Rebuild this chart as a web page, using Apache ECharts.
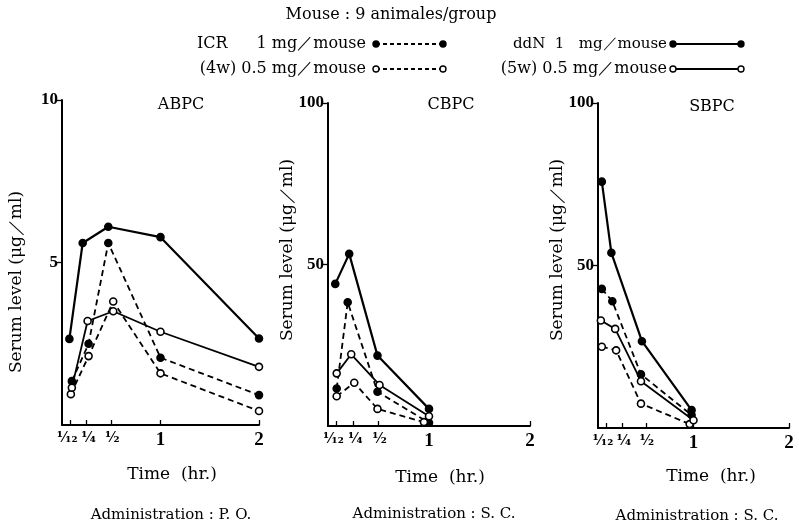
<!DOCTYPE html>
<html>
<head>
<meta charset="utf-8">
<script src="https://cdn.jsdelivr.net/npm/echarts@6/dist/echarts.min.js"></script>
<style>html,body{margin:0;padding:0;background:#fff}#c{width:799px;height:522px}</style>
</head>
<body>
<div id="c"></div>
<script>
// ---- Data (time in hr, serum level in µg/ml) ----
const panelTitles = ['ABPC', 'CBPC', 'SBPC'];
const routeLabels = ['Administration : P. O.', 'Administration : S. C.', 'Administration : S. C.'];
const yMax = [10, 100, 100];
const yTicks = [[5, 10], [50, 100], [50, 100]];
const xTicks = [1/12, 1/4, 1/2, 1, 2];
const xWholeTicks = [1, 2];
const xFracTicks = [1/12, 1/4, 1/2];
const xFracLabels = ['¹⁄₁₂', '¹⁄₄', '¹⁄₂'];
const seriesNames = ['ICR 1 mg/mouse', 'ICR 0.5 mg/mouse', 'ddN 1 mg/mouse', 'ddN 0.5 mg/mouse'];

// ABPC (P.O.)
const abpc_icr1_t  = [0.10, 0.27, 0.47, 1.00, 2.00];
const abpc_icr1_v  = [1.35, 2.50, 5.60, 2.07, 0.92];
const abpc_icr05_t = [0.09, 0.27, 0.52, 1.00, 2.00];
const abpc_icr05_v = [0.95, 2.12, 3.80, 1.59, 0.43];
const abpc_ddn1_t  = [0.075, 0.21, 0.47, 1.00, 2.00];
const abpc_ddn1_v  = [2.65, 5.60, 6.10, 5.78, 2.66];
const abpc_ddn05_t = [0.10, 0.26, 0.52, 1.00, 2.00];
const abpc_ddn05_v = [1.15, 3.20, 3.50, 2.87, 1.79];

// CBPC (S.C.)
const cbpc_icr1_t  = [0.086, 0.195, 0.49, 1.00];
const cbpc_icr1_v  = [11.6, 38.3, 10.6, 1.0];
const cbpc_icr05_t = [0.086, 0.26, 0.49, 0.95];
const cbpc_icr05_v = [9.2, 13.4, 5.3, 1.2];
const cbpc_ddn1_t  = [0.072, 0.21, 0.49, 1.00];
const cbpc_ddn1_v  = [44.0, 53.3, 21.8, 5.3];
const cbpc_ddn05_t = [0.086, 0.23, 0.51, 1.00];
const cbpc_ddn05_v = [16.3, 22.2, 12.7, 3.0];

// SBPC (S.C.)
const sbpc_icr1_t  = [0.04, 0.15, 0.45, 0.98];
const sbpc_icr1_v  = [42.8, 39.0, 16.5, 4.0];
const sbpc_icr05_t = [0.04, 0.19, 0.45, 0.96];
const sbpc_icr05_v = [25.0, 23.9, 7.5, 1.2];
const sbpc_ddn1_t  = [0.04, 0.14, 0.46, 0.98];
const sbpc_ddn1_v  = [75.8, 53.9, 26.7, 5.5];
const sbpc_ddn05_t = [0.03, 0.18, 0.45, 1.00];
const sbpc_ddn05_v = [33.1, 30.5, 14.4, 2.4];

const panelData = [
  [[abpc_icr1_t, abpc_icr1_v], [abpc_icr05_t, abpc_icr05_v], [abpc_ddn1_t, abpc_ddn1_v], [abpc_ddn05_t, abpc_ddn05_v]],
  [[cbpc_icr1_t, cbpc_icr1_v], [cbpc_icr05_t, cbpc_icr05_v], [cbpc_ddn1_t, cbpc_ddn1_v], [cbpc_ddn05_t, cbpc_ddn05_v]],
  [[sbpc_icr1_t, sbpc_icr1_v], [sbpc_icr05_t, sbpc_icr05_v], [sbpc_ddn1_t, sbpc_ddn1_v], [sbpc_ddn05_t, sbpc_ddn05_v]]
];

// ---- Layout / style ----
const SERIF = '"DejaVu Serif", "Liberation Serif", serif';
const grids = [
  { left: 62,  top: 100, width: 197, height: 325 },
  { left: 328, top: 103, width: 202, height: 323 },
  { left: 598, top: 103, width: 191, height: 325 }
];
const seriesStyle = [
  { dash: [6, 4], filled: true,  width: 1.8 },
  { dash: [6, 4], filled: false, width: 1.8 },
  { dash: 'solid', filled: true,  width: 2.2 },
  { dash: 'solid', filled: false, width: 1.8 }
];

const xAxes = [], yAxes = [], series = [];
for (let p = 0; p < 3; p++) {
  xAxes.push({
    type: 'value', gridIndex: p, min: 0, max: 2,
    axisLine: { show: true, onZero: false, lineStyle: { color: '#000', width: 2 } },
    axisTick: { show: true, inside: true, length: 5, customValues: xTicks, lineStyle: { color: '#000', width: 1.3 } },
    axisLabel: {
      customValues: xWholeTicks, margin: 6, color: '#000',
      fontFamily: '"Liberation Serif", serif', fontSize: 19, fontWeight: 'bold'
    },
    splitLine: { show: false }
  });
  yAxes.push({
    type: 'value', gridIndex: p, min: 0, max: yMax[p],
    axisLine: { show: true, lineStyle: { color: '#000', width: 2 } },
    axisTick: { show: true, length: 5, customValues: yTicks[p], lineStyle: { color: '#000', width: 1.3 } },
    axisLabel: { customValues: yTicks[p], margin: 4, color: '#000', fontFamily: '"Liberation Serif", serif', fontSize: 17, fontWeight: 'bold' },
    splitLine: { show: false }
  });
  for (let s = 0; s < 4; s++) {
    const st = seriesStyle[s];
    const t = panelData[p][s][0], v = panelData[p][s][1];
    series.push({
      name: seriesNames[s], type: 'line', xAxisIndex: p, yAxisIndex: p,
      data: t.map((x, i) => [x, v[i]]),
      symbol: 'circle', symbolSize: 7, showSymbol: true,
      lineStyle: { color: '#000', width: st.width, type: st.dash },
      itemStyle: { color: st.filled ? '#000' : '#fff', borderColor: '#000', borderWidth: 1.6 },
      z: st.filled ? 3 : 4,
      animation: false
    });
  }
}

// ---- Texts and legend key (graphic) ----
const g = [];
function txt(text, x, y, size, align, opts) {
  g.push(Object.assign({
    type: 'text', x: x, y: y,
    style: { text: text, font: (opts && opts.bold ? 'bold ' : '') + size + 'px ' + ((opts && opts.family) || SERIF), fill: '#000',
             textAlign: align || 'center', textVerticalAlign: (opts && opts.va) || 'middle' }
  }, opts && opts.rot ? { rotation: opts.rot } : {}));
}
txt('Mouse : 9 animales/group', 391, 15, 16, 'center');
txt('ICR', 197, 44, 16, 'left');
txt('1 mg／mouse', 366, 44, 16, 'right');
txt('(4w) 0.5 mg／mouse', 366, 69, 16, 'right');
txt('ddN  1   mg／mouse', 667, 44, 15, 'right');
txt('(5w) 0.5 mg／mouse', 667, 69, 16, 'right');

const legendKeys = [
  { x1: 376, x2: 443, y: 44, dash: [4, 3], filled: true },
  { x1: 376, x2: 443, y: 69, dash: [4, 3], filled: false },
  { x1: 673, x2: 741, y: 44, dash: null, filled: true },
  { x1: 673, x2: 741, y: 69, dash: null, filled: false }
];
legendKeys.forEach(k => {
  g.push({ type: 'line', shape: { x1: k.x1, y1: k.y, x2: k.x2, y2: k.y },
           style: { stroke: '#000', lineWidth: 1.8, lineDash: k.dash } });
  [k.x1, k.x2].forEach(cx => g.push({ type: 'circle', shape: { cx: cx, cy: k.y, r: 3 },
           style: { fill: k.filled ? '#000' : '#fff', stroke: '#000', lineWidth: 1.4 }, z: 10 }));
});

const titleX = [181, 451, 712], titleY = [105, 105, 107];
const timeX = [172, 440, 711], timeY = [475, 478, 477];
const routeX = [171, 434, 697], routeY = [515, 514, 516];
const yNameX = [17, 288, 558], yNameY = [282, 250, 250];
for (let p = 0; p < 3; p++) {
  txt(panelTitles[p], titleX[p], titleY[p], 16, 'center');
  txt('Time  (hr.)', timeX[p], timeY[p], 17, 'center');
  txt(routeLabels[p], routeX[p], routeY[p], 15, 'center');
  txt('Serum level (μg／ml)', yNameX[p], yNameY[p], 17, 'center', { rot: Math.PI / 2 });
}

const chart = echarts.init(document.getElementById('c'), null, { renderer: 'canvas' });
chart.setOption({
  animation: false,
  backgroundColor: '#fff',
  grid: grids,
  xAxis: xAxes,
  yAxis: yAxes,
  series: series,
  graphic: g
});

// Fraction tick labels, placed through each panel's own x scale
const fracNudge = [-3, 2, 1];
for (let p = 0; p < 3; p++) {
  xFracTicks.forEach((t, i) => {
    const pt = chart.convertToPixel({ gridIndex: p }, [t, 0]);
    txt(xFracLabels[i], pt[0] + fracNudge[i], pt[1] + 6, 14, 'center',
        { bold: true, family: '"DejaVu Serif", serif', va: 'top' });
  });
}
chart.setOption({ graphic: g });
</script>
</body>
</html>
